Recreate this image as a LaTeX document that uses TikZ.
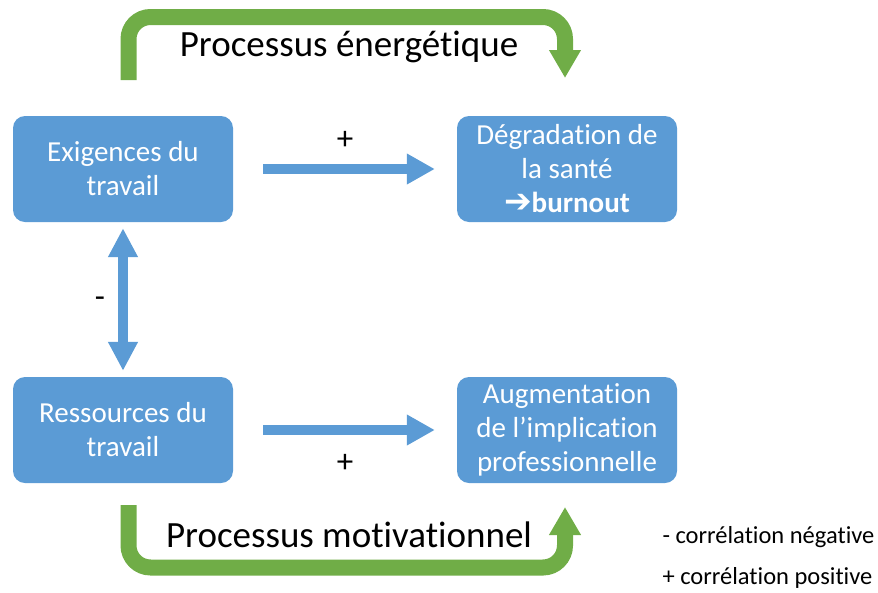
\documentclass[tikz,border=0pt]{standalone}
\usepackage{fontspec}
\setmainfont[Ligatures={NoCommon}]{Carlito}
\newfontfamily\arrowfont{DejaVu Sans}
\usetikzlibrary{arrows.meta}
\definecolor{boxblue}{HTML}{5B9BD5}
\definecolor{procgreen}{HTML}{70AD47}

\begin{document}
\begin{tikzpicture}[x=1pt,y=-1pt,
  box/.style={fill=boxblue, rounded corners=12pt, minimum width=220pt,
    minimum height=106pt, text=white, align=center, inner sep=0pt,
    font=\fontsize{29}{34}\selectfont},
  link/.style={draw=boxblue, line width=10pt},
  process/.style={draw=procgreen, line width=16pt, rounded corners=22pt,
    -{Triangle[length=28pt,width=30pt]}},
  title/.style={font=\fontsize{37}{40}\selectfont},
  sign/.style={font=\fontsize{33}{36}\selectfont},
  legend/.style={anchor=west, font=\fontsize{24.5}{28}\selectfont}]

  \useasboundingbox (0,0) rectangle (878,592);

  %% Job demands-resources model

  % Boxes
  \node (exig) at (123,169) [box] {Exigences du\\travail};
  \node (ress) at (123,430) [box] {Ressources du\\travail};
  \node (degr) at (567,169) [box] {D\'egradation de\\la sant\'e\\{\arrowfont\fontsize{33}{34}\selectfont ➔}\textbf{burnout}};
  \node (augm) at (567,430) [box] {Augmentation\\de l’implication\\professionnelle};

  % Demands -> health
  \draw[link, -{Triangle[length=28pt,width=29pt]}]
    ([xshift=30pt]exig.east) -- ([xshift=-22pt]degr.west);
  \node (plushaut) at (345,140) [sign] {+};

  % Resources -> implication
  \draw[link, -{Triangle[length=28pt,width=29pt]}]
    ([xshift=30pt]ress.east) -- ([xshift=-22pt]augm.west);
  \node (plusbas) at (345,463) [sign] {+};

  % Demands <-> resources
  \draw[link, {Triangle[length=29pt,width=28pt]}-{Triangle[length=29pt,width=28pt]}]
    ([yshift=-6pt]exig.south) -- ([yshift=6pt]ress.north);
  \node (moins) at (100,302) [sign] {-};

  % Energetic process
  \draw[process] (128.5,80) -- (128.5,17) -- (565,17) -- (565,78);
  \node (energ) at (349,47) [title] {Processus \'energ\'etique};

  % Motivational process
  \draw[process] (128.5,505) -- (128.5,567.5) -- (565,567.5) -- (565,507);
  \node (motiv) at (349,535) [title] {Processus motivationnel};

  % Legend
  \node (neg) at (659,537) [legend] {- corr\'elation n\'egative};
  \node (pos) at (659,578) [legend] {+ corr\'elation positive};

\end{tikzpicture}
\end{document}
